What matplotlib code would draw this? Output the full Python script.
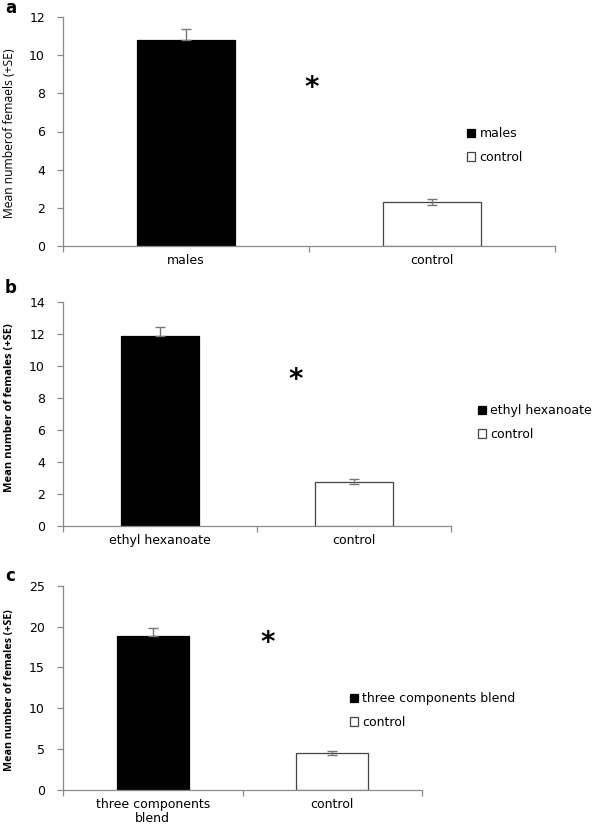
import matplotlib
matplotlib.use("Agg")
import matplotlib.pyplot as plt
import numpy as np

plt.rcParams['font.family'] = ['DejaVu Sans']

# ---- data ----
cats_a = ["males", "control"]
means_a = [10.8, 2.3]
se_up_a = [0.55, 0.15]
se_lo_a = [0.0, 0.15]
yticks_a = [0, 2, 4, 6, 8, 10, 12]

cats_b = ["ethyl hexanoate", "control"]
means_b = [11.85, 2.75]
se_up_b = [0.6, 0.15]
se_lo_b = [0.0, 0.15]
yticks_b = [0, 2, 4, 6, 8, 10, 12, 14]

cats_c = ["three components\nblend", "control"]
legend_c = ["three components blend", "control"]
means_c = [18.85, 4.5]
se_up_c = [1.0, 0.25]
se_lo_c = [0.0, 0.25]
yticks_c = [0, 5, 10, 15, 20, 25]

ylab_a = "Mean numberof femaels (+SE)"
ylab_bc = "Mean number of females (+SE)"

W, H = 609, 826
fig = plt.figure(figsize=(W / 100, H / 100), dpi=100)

def fx(px):
    return px / W

def fy(py):
    return 1 - py / H

axis_col = "#8a8a8a"
FS = 9.0

def panel(rect, cats, means, se_lo, se_up, yticks, ylabel, ybold, ylab_fs,
          ylab_cy, letter, letter_xy, star_xy, leg_labels, leg_anchor):
    ax = fig.add_axes(rect)
    x = np.arange(len(cats))
    bars = ax.bar(x, means, width=0.4, color=["black", "white"],
                  edgecolor=["black", "#444444"], linewidth=0.9, zorder=2)
    ax.errorbar(x, means, yerr=[se_lo, se_up], fmt="none", ecolor="#777777",
                elinewidth=1.0, capsize=3.8, capthick=1.0, zorder=3)
    ax.set_xlim(-0.5, len(cats) - 0.5)
    ax.set_ylim(yticks[0], yticks[-1])
    ax.set_yticks(yticks)
    ax.set_xticks(x)
    ax.set_xticklabels(cats, fontsize=FS, linespacing=1.05)
    ax.set_xticks(np.arange(len(cats) + 1) - 0.5, minor=True)
    ax.tick_params(axis="x", which="major", length=0, pad=6)
    ax.tick_params(axis="x", which="minor", length=4, color=axis_col, width=0.9)
    ax.tick_params(axis="y", length=4, color=axis_col, width=0.9,
                   labelsize=FS, pad=9)
    for s in ["top", "right"]:
        ax.spines[s].set_visible(False)
    for s in ["left", "bottom"]:
        ax.spines[s].set_color(axis_col)
        ax.spines[s].set_linewidth(0.9)
    fig.text(fx(10), fy(ylab_cy), ylabel, rotation=90,
             ha="center", va="center", fontsize=ylab_fs,
             family=["Open Sans", "DejaVu Sans"],
             fontweight="bold" if ybold else "normal")
    fig.text(fx(letter_xy[0]), fy(letter_xy[1]), letter, fontsize=12,
             fontweight="bold", ha="left", va="center")
    ax.text(star_xy[0], star_xy[1], "*", fontsize=20, fontweight="bold",
            ha="center", va="center")
    fig.legend(bars, leg_labels, loc="center left",
               bbox_to_anchor=(fx(leg_anchor[0]), fy(leg_anchor[1])),
               frameon=False, fontsize=FS, handlelength=0.65, handleheight=0.65,
               handletextpad=0.35, labelspacing=0.84, borderpad=0,
               borderaxespad=0)
    return ax

panel([fx(63), fy(246), fx(555 - 63), (246 - 17) / H], cats_a, means_a,
      se_lo_a, se_up_a, yticks_a, ylab_a, False, 8.7, 133, "a", (5, 8),
      (0.51, 8.3), cats_a, (467, 145.5))

panel([fx(63), fy(525.7), fx(451 - 63), (525.7 - 301.7) / H], cats_b, means_b,
      se_lo_b, se_up_b, yticks_b, ylab_bc, True, 8.0, 408, "b", (5, 288),
      (0.70, 9.1), cats_b, (478, 422.5))

panel([fx(63), fy(790), fx(422 - 63), (790 - 585.7) / H], cats_c, means_c,
      se_lo_c, se_up_c, yticks_c, ylab_bc, True, 7.7, 690, "c", (5, 576),
      (0.64, 18.0), legend_c, (350, 710.5))

fig.savefig("out.png", dpi=100)
